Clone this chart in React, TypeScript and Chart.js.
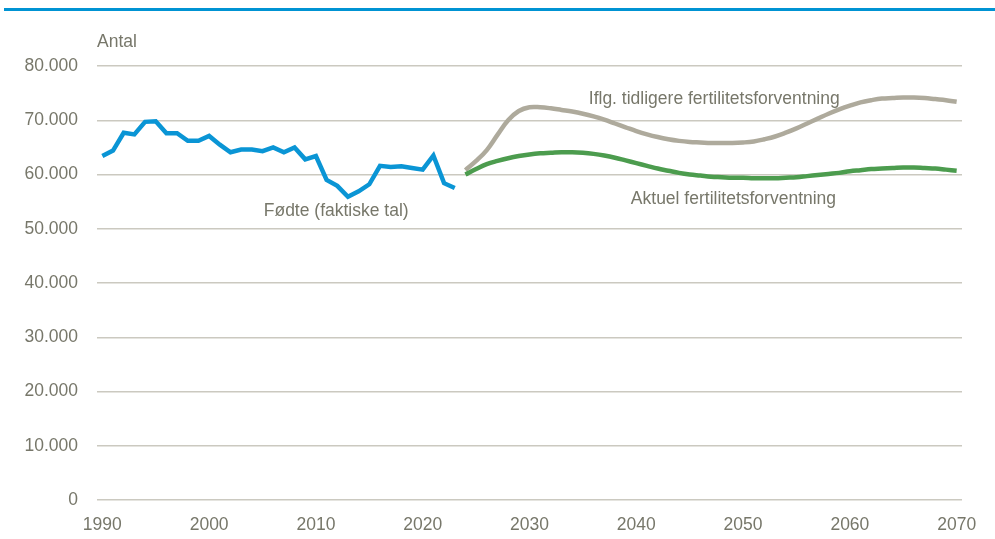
import React, { useEffect, useRef } from 'react';
import { Chart, registerables } from 'chart.js';

Chart.register(...registerables);

const FIRST_YEAR = 1990;
const LAST_YEAR = 2070;
const years: string[] = Array.from({ length: LAST_YEAR - FIRST_YEAR + 1 }, (_, i) => String(FIRST_YEAR + i));
const shownYearLabels = ['1990', '2000', '2010', '2020', '2030', '2040', '2050', '2060', '2070'];

// Fødte (faktiske tal) 1990–2023
const births = [
  63400, 64400, 67700, 67400, 69700, 69800, 67600, 67600, 66200, 66200,
  67100, 65500, 64100, 64600, 64600, 64300, 65000, 64100, 65000, 62800,
  63400, 59000, 57900, 55900, 56900, 58200, 61600, 61400, 61500, 61200,
  60900, 63500, 58400, 57500,
];

// Projections 2024–2070
const previousForecast = [
  60800, 62500, 64500, 67300, 70000, 71700, 72400, 72400, 72200, 71900,
  71600, 71200, 70700, 70100, 69400, 68700, 68000, 67400, 66900, 66500,
  66200, 66000, 65900, 65800, 65800, 65800, 65900, 66100, 66500, 67000,
  67700, 68500, 69400, 70300, 71200, 72000, 72700, 73300, 73700, 74000,
  74100, 74200, 74200, 74100, 73900, 73700, 73400,
];
const currentForecast = [
  60000, 61000, 61900, 62500, 63000, 63400, 63700, 63900, 64000, 64100,
  64100, 64000, 63800, 63500, 63100, 62600, 62100, 61600, 61100, 60700,
  60300, 60000, 59800, 59600, 59500, 59400, 59400, 59300, 59300, 59300,
  59400, 59500, 59700, 59900, 60100, 60300, 60600, 60800, 61000, 61100,
  61200, 61300, 61300, 61200, 61100, 60900, 60700,
];

const annotationTexts = ['Fødte (faktiske tal)', 'Iflg. tidligere fertilitetsforventning', 'Aktuel fertilitetsforventning'];
const annotationYears = [2011.9, 2047.3, 2049.1];
const annotationValues = [53300, 73900, 55500];

const FONT = '"Liberation Sans", Arial, sans-serif';
const FS = 17.5;
const TEXT = '#77776a';
const GRID = '#cbc9c0';

const fmt = (v: number) => (v === 0 ? '0' : v.toLocaleString('de-DE'));

export default function App() {
  const ref = useRef<HTMLCanvasElement | null>(null);
  useEffect(() => {
    if (!ref.current) return;
    const pad = (arr: (number | null)[], before: number, after: number) => [
      ...Array(before).fill(null),
      ...arr,
      ...Array(after).fill(null),
    ];
    const nBirths = births.length;
    const nProj = previousForecast.length;
    const total = years.length;

    const labelPlugin = {
      id: 'labels',
      afterDatasetsDraw(chart: any) {
        const { ctx, scales, chartArea } = chart;
        const x = scales.x;
        const y = scales.y;
        ctx.save();
        ctx.font = `${FS}px ${FONT}`;
        ctx.fillStyle = TEXT;
        ctx.textAlign = 'center';
        ctx.textBaseline = 'middle';
        annotationTexts.forEach((t, i) => {
          ctx.fillText(t, x.getPixelForValue(annotationYears[i] - FIRST_YEAR), y.getPixelForValue(annotationValues[i]));
        });
        ctx.textAlign = 'left';
        ctx.fillText('Antal', chartArea.left, chartArea.top - 24);
        ctx.restore();
      },
    };

    const chart = new Chart(ref.current, {
      type: 'line',
      data: {
        labels: years,
        datasets: [
          {
            label: 'Fødte (faktiske tal)',
            data: pad(births, 0, total - nBirths),
            borderColor: '#0a95d5',
            borderWidth: 4.5,
            pointRadius: 0,
            tension: 0,
            order: 0,
          },
          {
            label: 'Iflg. tidligere fertilitetsforventning',
            data: pad(previousForecast, total - nProj, 0),
            borderColor: '#aeaa9c',
            borderWidth: 4.5,
            pointRadius: 0,
            tension: 0.4,
            order: 2,
          },
          {
            label: 'Aktuel fertilitetsforventning',
            data: pad(currentForecast, total - nProj, 0),
            borderColor: '#4c9c4e',
            borderWidth: 4.5,
            pointRadius: 0,
            tension: 0.4,
            order: 1,
          },
        ],
      },
      options: {
        responsive: false,
        animation: false,
        layout: { padding: { top: 66, right: 33, bottom: 0, left: 0 } },
        plugins: { legend: { display: false }, tooltip: { enabled: false }, title: { display: false } },
        scales: {
          x: {
            type: 'category',
            offset: true,
            grid: { display: false, drawTicks: false },
            border: { display: false },
            ticks: {
              autoSkip: false,
              maxRotation: 0,
              padding: 15,
              color: TEXT,
              font: { family: FONT, size: FS },
              callback: (_v: any, i: number) => (shownYearLabels.includes(years[i]) ? years[i] : ''),
            },
            afterFit: (s: any) => {
              s.height = 39;
            },
          },
          y: {
            min: 0,
            max: 80000,
            grid: { color: GRID, lineWidth: 1.5, drawTicks: false },
            border: { display: false },
            ticks: {
              stepSize: 10000,
              padding: 19,
              color: TEXT,
              font: { family: FONT, size: FS },
              callback: (v: any) => fmt(Number(v)),
            },
            afterFit: (s: any) => {
              s.width = 97;
            },
          },
        },
      },
      plugins: [labelPlugin],
    });
    return () => chart.destroy();
  }, []);

  return (
    <div style={{ position: 'fixed', left: 0, top: 0, width: 995, height: 539, background: '#fff' }}>
      <div style={{ position: 'absolute', left: 4, top: 8, width: 991, height: 3, background: '#0093d3' }} />
      <canvas ref={ref} width={995} height={539} style={{ position: 'absolute', left: 0, top: 0, display: 'block' }} />
    </div>
  );
}
